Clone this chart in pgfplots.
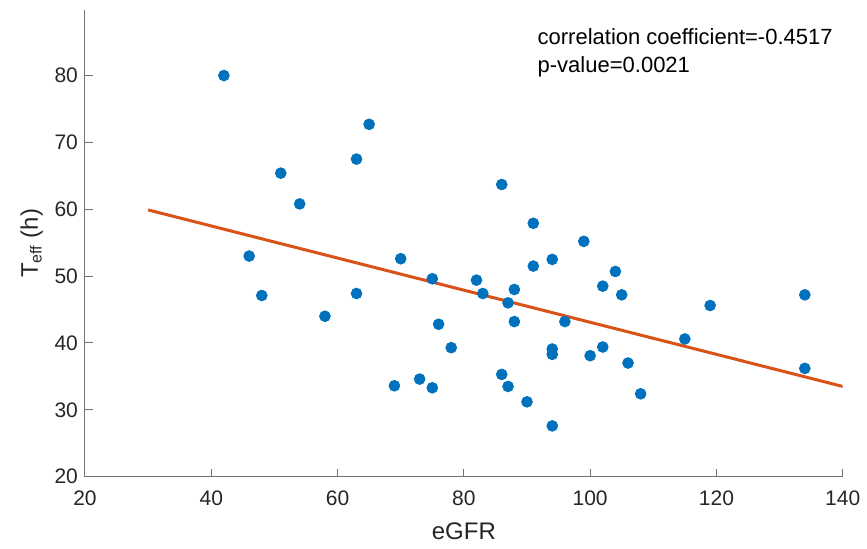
\documentclass[border=0pt]{standalone}
\usepackage{fontspec}
\setmainfont{Liberation Sans}
\usepackage{pgfplots}
\pgfplotsset{compat=1.18}
\definecolor{mblue}{rgb}{0,0.447,0.741}
\definecolor{morange}{rgb}{0.85,0.325,0.098}
\definecolor{axgray}{gray}{0.15}
\begin{document}
\begin{tikzpicture}
\begin{axis}[
    name=ax,
    scale only axis,
    width=378.85pt, height=233.35pt,
    xmin=20, xmax=140, ymin=20, ymax=89.8,
    xtick={20,40,...,140},
    ytick={20,30,...,80},
    axis x line*=bottom, axis y line*=left,
    axis line style={black!55, line width=0.5pt},
    tick style={black!55, line width=0.5pt},
    major tick length=4pt,
    tick align=inside,
    /pgf/number format/assume math mode=true,
    ticklabel style={font=\fontsize{10.5}{12}\selectfont, text=axgray},
    xticklabel style={yshift=-3.5pt},
    xlabel={eGFR},
    ylabel={T\textsubscript{eff} (h)},
    label style={font=\fontsize{12}{14}\selectfont, text=axgray},
    xlabel style={at={(axis description cs:0.5,-0.0986)}, anchor=north, inner sep=0pt},
    ylabel style={at={(axis description cs:-0.055,0.5)}, anchor=south, inner sep=0pt},
]
\addplot[only marks, mark=*, mark size=2.7pt, mark options={fill=mblue, draw=mblue}] coordinates {
    (42,80) (65,72.7) (63,67.5) (51,65.4) (54,60.8) (46,53) (70,52.6)
    (75,49.6) (82,49.4) (48,47.1) (63,47.4) (58,44) (76,42.8) (78,39.3)
    (69,33.6) (73,34.6) (75,33.3) (83,47.4) (88,48) (87,46) (88,43.2)
    (86,35.3) (87,33.5) (90,31.2) (94,27.6) (94,39.1) (94,38.3) (96,43.2)
    (91,51.5) (100,38.1) (102,39.4) (102,48.5) (104,50.7) (105,47.2)
    (106,37) (108,32.4) (115,40.6) (119,45.6) (134,47.2) (134,36.2)
    (86,63.7) (91,57.9) (99,55.2) (94,52.5)
};
\addplot[morange, line width=1.5pt] coordinates {(30,59.9) (140,33.5)};
\node[anchor=base west, inner sep=0pt, font=\fontsize{11}{13}\selectfont] at (axis cs:91.63,84.64) {correlation coefficient=-0.4517};
\node[anchor=base west, inner sep=0pt, font=\fontsize{11}{13}\selectfont] at (axis cs:91.63,80.39) {p-value=0.0021};
\end{axis}
\pgfresetboundingbox
\path[use as bounding box] ([xshift=-42.5pt,yshift=-35.65pt]ax.south west) rectangle ([xshift=12.15pt,yshift=5pt]ax.north east);
\end{tikzpicture}
\end{document}
